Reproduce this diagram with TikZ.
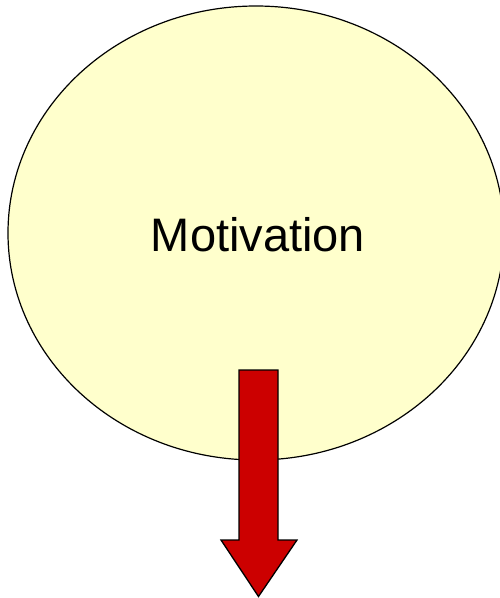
\documentclass[tikz,border=0pt]{standalone}
\usepackage{fontspec}
\setmainfont{Liberation Sans}
\usetikzlibrary{shapes.geometric}
\definecolor{paleyellow}{HTML}{FFFFCC}
\definecolor{arrowred}{HTML}{CC0000}
\begin{document}
\begin{tikzpicture}[x=1pt,y=-1pt,
  bubble/.style={ellipse,draw=black,line width=1.2pt,fill=paleyellow,minimum width=496pt,minimum height=454pt,inner sep=0pt},
  bigarrow/.style={draw=black,line width=1.3pt,fill=arrowred,line join=miter}]
\useasboundingbox (0,0) rectangle (500,598);
\node[bubble] (motivation) at (256,233) {};
\node[font=\fontsize{47}{52}\selectfont,anchor=base,inner sep=0pt] (label) at (258,251) {Motivation};
\draw[bigarrow] (239,370) -- (278,370) -- (278,540) -- (297,540) -- (258.5,596.5) -- (221,540) -- (239,540) -- cycle;
\end{tikzpicture}
\end{document}
